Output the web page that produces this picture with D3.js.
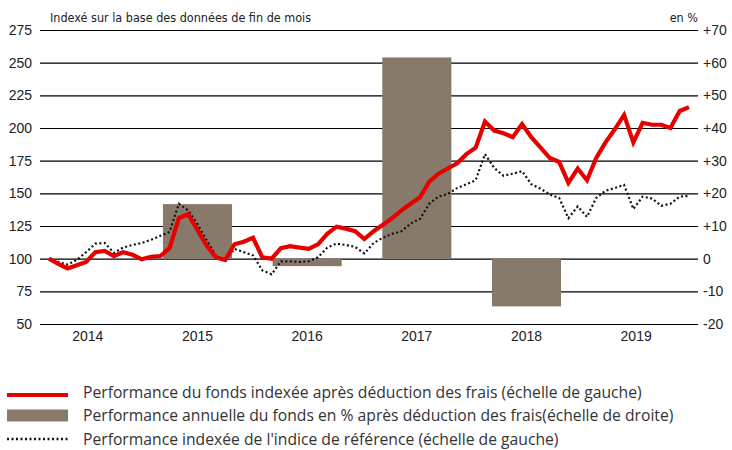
<!DOCTYPE html>
<html>
<head>
<meta charset="utf-8">
<script src="https://cdn.jsdelivr.net/npm/d3@7"></script>
<style>
  body { margin: 0; background: #fff; }
  svg { display: block; font-family: "Open Sans", sans-serif; }
  .tick text { fill: #222; }
</style>
</head>
<body>
<div id="chart"></div>
<script>
// annual bars (right scale, %)
var years = ["2014", "2015", "2016", "2017", "2018", "2019"];
var annual = [null, 16.7, -2.3, 61.6, -14.6, null];

// monthly index values (left scale), month-end data
var fund = [100, 96, 92.5, 95, 97.5, 105, 106, 102, 105, 103,
  99.5, 101.5, 102, 108, 131, 134, 122, 110, 101, 99,
  111, 113, 116, 101, 100, 108, 109.5, 108.5, 107.5, 111,
  119, 124.5, 123, 121, 115, 121, 126, 131, 137, 142,
  147, 159, 165, 169, 173, 180, 185, 205, 198, 196,
  193, 203, 193, 185, 177, 174, 158, 169, 160, 177,
  189, 199, 210, 189, 204, 202.5, 202.5, 200, 213, 216];
var bench = [100, 97.5, 95.5, 99, 105, 111.5, 112, 104.5, 108.5, 110.5,
  112, 114.5, 117.5, 120.5, 142, 137, 126.5, 114, 102, 99,
  107.5, 105, 102.5, 91, 88, 98, 98, 97.5, 98, 101,
  108.5, 111.5, 110.5, 109, 104, 112, 116, 119, 121, 127,
  130.5, 142, 147.5, 149.5, 154, 157, 160, 180, 169.5, 163.5,
  165, 167, 157, 153.5, 149, 146.5, 131, 140, 132, 146.5,
  152, 154, 156.5, 138, 147.5, 146, 140.5, 142, 147.5, 148];

var leftTicks = [50, 75, 100, 125, 150, 175, 200, 225, 250, 275];
var rightTicks = [-20, -10, 0, 10, 20, 30, 40, 50, 60, 70];

var legendItems = [
  "Performance du fonds indexée après déduction des frais (échelle de gauche)",
  "Performance annuelle du fonds en % après déduction des frais(échelle de droite)",
  "Performance indexée de l'indice de référence (échelle de gauche)"
];

var width = 732, height = 450;
var plotLeft = 40, plotRight = 698, plotTop = 30, plotBottom = 324;

var svg = d3.select("#chart").append("svg")
  .attr("width", width)
  .attr("height", height);

var yL = d3.scaleLinear().domain([50, 275]).range([plotBottom, plotTop]);
var yR = d3.scaleLinear().domain([-20, 70]).range([plotBottom, plotTop]);
var xYear = d3.scaleBand().domain(years).range([33, 691]).paddingInner(0.37).paddingOuter(0.185);
var xMonth = d3.scaleLinear().domain([0, fund.length - 1]).range([49, 689]);

// grid + left labels
var gl = svg.append("g")
  .attr("transform", "translate(" + plotLeft + ",0)")
  .call(d3.axisLeft(yL).tickValues(leftTicks).tickSize(-(plotRight - plotLeft)).tickPadding(8));
gl.select(".domain").remove();
gl.selectAll(".tick line").attr("stroke", "#000").attr("stroke-width", 1.2);
gl.selectAll(".tick text").attr("font-size", 14);

// right labels
var gr = svg.append("g")
  .attr("transform", "translate(" + plotRight + ",0)")
  .call(d3.axisRight(yR).tickValues(rightTicks).tickSize(0).tickPadding(5)
    .tickFormat(function(d) { return d > 0 ? "+" + d : d; }));
gr.select(".domain").remove();
gr.selectAll(".tick text").attr("font-size", 14);

// x labels
var gx = svg.append("g")
  .attr("transform", "translate(0," + plotBottom + ")")
  .call(d3.axisBottom(xYear).tickSize(0).tickPadding(7));
gx.select(".domain").remove();
gx.selectAll(".tick text").attr("font-size", 14);

// bars
svg.append("g").selectAll("rect")
  .data(years.map(function(y, i) { return {year: y, v: annual[i]}; })
    .filter(function(d) { return d.v != null; }))
  .enter().append("rect")
  .attr("x", function(d) { return xYear(d.year); })
  .attr("width", xYear.bandwidth())
  .attr("y", function(d) { return yR(Math.max(0, d.v)); })
  .attr("height", function(d) { return Math.abs(yR(d.v) - yR(0)); })
  .attr("fill", "#887a6b");

var line = d3.line()
  .x(function(d, i) { return xMonth(i); })
  .y(function(d) { return yL(d); });

svg.append("path")
  .datum(bench)
  .attr("fill", "none")
  .attr("stroke", "#111")
  .attr("stroke-width", 2.2)
  .attr("stroke-dasharray", "2,2.5")
  .attr("d", line);

svg.append("path")
  .datum(fund)
  .attr("fill", "none")
  .attr("stroke", "#e60000")
  .attr("stroke-width", 4.2)
  .attr("stroke-linejoin", "miter")
  .attr("d", line);

// header texts
svg.append("text")
  .attr("x", 50).attr("y", 22)
  .attr("font-family", "'Liberation Sans Narrow', 'DejaVu Sans Condensed', sans-serif")
  .attr("font-size", 12.5)
  .attr("fill", "#222")
  .text("Indexé sur la base des données de fin de mois");

svg.append("text")
  .attr("x", 698).attr("y", 22)
  .attr("text-anchor", "end")
  .attr("font-family", "'Liberation Sans Narrow', 'DejaVu Sans Condensed', sans-serif")
  .attr("font-size", 12.5)
  .attr("fill", "#222")
  .text("en %");

// legend
var lg = svg.append("g").selectAll("g")
  .data(legendItems)
  .enter().append("g")
  .attr("transform", function(d, i) { return "translate(0," + (392 + i * 23.5) + ")"; });

lg.append("text")
  .attr("x", 83).attr("dy", "0.35em")
  .attr("font-size", 15.7)
  .attr("font-family", "'Open Sans', sans-serif")
  .attr("fill", "#333")
  .text(function(d) { return d; });

lg.filter(function(d, i) { return i === 0; }).append("rect")
  .attr("x", 7).attr("y", 1).attr("width", 61).attr("height", 4)
  .attr("fill", "#e60000");
lg.filter(function(d, i) { return i === 1; }).append("rect")
  .attr("x", 7).attr("y", -6).attr("width", 61).attr("height", 12)
  .attr("fill", "#887a6b");
lg.filter(function(d, i) { return i === 2; }).append("line")
  .attr("x1", 7).attr("x2", 68)
  .attr("stroke", "#111").attr("stroke-width", 2.5)
  .attr("stroke-dasharray", "2,2.5");
</script>
</body>
</html>
